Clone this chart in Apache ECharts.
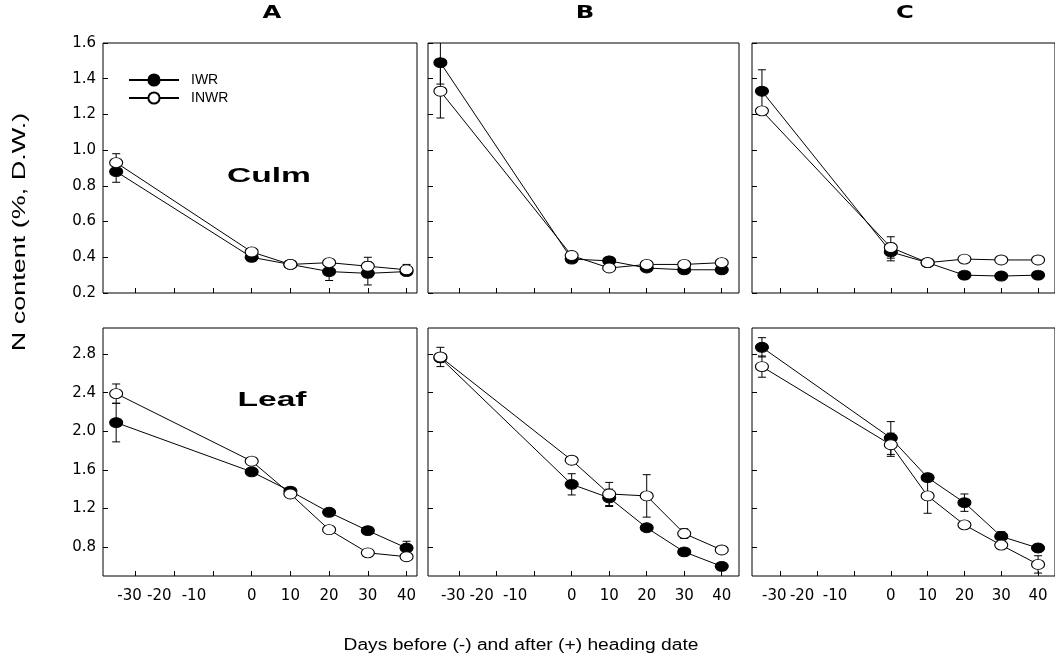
<!DOCTYPE html>
<html>
<head>
<meta charset="utf-8">
<script src="https://cdn.jsdelivr.net/npm/echarts@6/dist/echarts.min.js"></script>
<style>html,body{margin:0;padding:0;background:#fff}#c{width:1055px;height:667px}</style>
</head>
<body>
<div id="c"></div>
<script>
// ---- data ----
const days = [-35, 0, 10, 20, 30, 40];
const panelTitles = ['A', 'B', 'C'];
const seriesNames = ['IWR', 'INWR'];
const xTickValues = [-30, -20, -10, 0, 10, 20, 30, 40];
const culmTicks = [0.2, 0.4, 0.6, 0.8, 1.0, 1.2, 1.4, 1.6];
const leafTicks = [0.8, 1.2, 1.6, 2.0, 2.4, 2.8];

const culmA_IWR  = [0.88, 0.40, 0.36, 0.32, 0.31, 0.32];
const culmA_INWR = [0.93, 0.43, 0.36, 0.37, 0.35, 0.33];
const culmB_IWR  = [1.49, 0.39, 0.38, 0.34, 0.33, 0.33];
const culmB_INWR = [1.33, 0.41, 0.34, 0.36, 0.36, 0.37];
const culmC_IWR  = [1.33, 0.43, 0.37, 0.30, 0.295, 0.30];
const culmC_INWR = [1.22, 0.455, 0.37, 0.39, 0.385, 0.385];

const leafA_IWR  = [2.09, 1.58, 1.38, 1.16, 0.97, 0.79];
const leafA_INWR = [2.39, 1.69, 1.35, 0.98, 0.74, 0.70];
const leafB_IWR  = [2.76, 1.45, 1.31, 1.00, 0.75, 0.60];
const leafB_INWR = [2.77, 1.70, 1.35, 1.33, 0.94, 0.77];
const leafC_IWR  = [2.87, 1.93, 1.52, 1.26, 0.91, 0.79];
const leafC_INWR = [2.67, 1.86, 1.33, 1.03, 0.82, 0.62];

// error half-widths (0 = no visible bar)
const culmA_IWR_err  = [0.06, 0.02, 0, 0.05, 0.065, 0.02];
const culmA_INWR_err = [0.05, 0, 0, 0, 0.05, 0.03];
const culmB_IWR_err  = [0.12, 0.02, 0.02, 0, 0, 0];
const culmB_INWR_err = [0.15, 0.02, 0, 0, 0, 0];
const culmC_IWR_err  = [0.12, 0.05, 0, 0.02, 0.02, 0.02];
const culmC_INWR_err = [0, 0.06, 0.02, 0, 0, 0];
const leafA_IWR_err  = [0.2, 0.03, 0.03, 0.03, 0.03, 0.07];
const leafA_INWR_err = [0.1, 0, 0, 0, 0, 0];
const leafB_IWR_err  = [0.04, 0.11, 0.09, 0, 0, 0];
const leafB_INWR_err = [0.1, 0, 0.12, 0.22, 0.05, 0];
const leafC_IWR_err  = [0.1, 0.17, 0.04, 0.09, 0.05, 0.04];
const leafC_INWR_err = [0.11, 0.12, 0.18, 0, 0, 0.09];

const panels = [
  [culmA_IWR, culmA_INWR, culmA_IWR_err, culmA_INWR_err],
  [culmB_IWR, culmB_INWR, culmB_IWR_err, culmB_INWR_err],
  [culmC_IWR, culmC_INWR, culmC_IWR_err, culmC_INWR_err],
  [leafA_IWR, leafA_INWR, leafA_IWR_err, leafA_INWR_err],
  [leafB_IWR, leafB_INWR, leafB_IWR_err, leafB_INWR_err],
  [leafC_IWR, leafC_INWR, leafC_IWR_err, leafC_INWR_err]
];

// ---- layout ----
const colLayout = [
  {left: 103, width: 314, xmin: -38.4, xmax: 42.7},
  {left: 428, width: 311, xmin: -38.3, xmax: 44.6},
  {left: 752, width: 310, xmin: -37.7, xmax: 44.6}
];
const rowLayout = [
  {top: 43, height: 250, ymin: 0.2, ymax: 1.6, ticks: culmTicks},
  {top: 328, height: 248, ymin: 0.5, ymax: 3.07, ticks: leafTicks}
];
const FONT = 'DejaVu Sans';
const FS = 15;
const labelShift = {'-30': 6, '-20': 15, '-10': 19};

const grids = [], xAxes = [], yAxes = [], series = [];
for (let i = 0; i < 6; i++) {
  const r = Math.floor(i / 3), c = i % 3;
  const cl = colLayout[c], rl = rowLayout[r];
  grids.push({left: cl.left, top: rl.top, width: cl.width, height: rl.height,
    show: true, borderColor: '#000', borderWidth: 1, backgroundColor: 'transparent', containLabel: false});
  xAxes.push({
    type: 'value', gridIndex: i, min: cl.xmin, max: cl.xmax, position: 'bottom',
    axisLine: {show: false, onZero: false}, splitLine: {show: false},
    axisTick: {show: true, inside: true, length: 5, customValues: xTickValues, lineStyle: {color: '#000'}},
    axisLabel: {show: r === 1, customValues: xTickValues, margin: 13,
      fontFamily: FONT, fontSize: FS, color: '#000',
      formatter: v => {
        const s = labelShift[String(v)];
        return s ? '{s' + s + '|' + v + '}' : '{n|' + v + '}';
      },
      rich: {
        n: {fontFamily: FONT, fontSize: FS, color: '#000'},
        s6: {fontFamily: FONT, fontSize: FS, color: '#000', padding: [0, 12, 0, 0]},
        s15: {fontFamily: FONT, fontSize: FS, color: '#000', padding: [0, 30, 0, 0]},
        s19: {fontFamily: FONT, fontSize: FS, color: '#000', padding: [0, 38, 0, 0]}
      }
    }
  });
  yAxes.push({
    type: 'value', gridIndex: i, min: rl.ymin, max: rl.ymax, position: 'left',
    axisLine: {show: false, onZero: false}, splitLine: {show: false},
    axisTick: {show: true, inside: true, length: 5, customValues: rl.ticks, lineStyle: {color: '#000'}},
    axisLabel: {show: c === 0, customValues: rl.ticks, margin: 7,
      fontFamily: FONT, fontSize: FS, color: '#000', formatter: v => v.toFixed(1)}
  });
  const [iwr, inwr, eI, eN] = panels[i];
  const errData = [];
  [[iwr, eI], [inwr, eN]].forEach(([vals, errs]) => {
    days.forEach((d, k) => { if (errs[k] > 0) errData.push([d, vals[k] - errs[k], vals[k] + errs[k]]); });
  });
  series.push({
    type: 'custom', xAxisIndex: i, yAxisIndex: i, z: 1, silent: true, clip: true,
    data: errData,
    renderItem: (params, api) => {
      const x = api.value(0);
      const lo = api.coord([x, api.value(1)]);
      const hi = api.coord([x, api.value(2)]);
      const w = 4;
      const st = {stroke: '#000', lineWidth: 1};
      return {type: 'group', children: [
        {type: 'line', shape: {x1: lo[0], y1: lo[1], x2: hi[0], y2: hi[1]}, style: st},
        {type: 'line', shape: {x1: lo[0] - w, y1: lo[1], x2: lo[0] + w, y2: lo[1]}, style: st},
        {type: 'line', shape: {x1: hi[0] - w, y1: hi[1], x2: hi[0] + w, y2: hi[1]}, style: st}
      ]};
    }
  });
  series.push({
    name: 'IWR', type: 'line', xAxisIndex: i, yAxisIndex: i, z: 3,
    data: days.map((d, k) => [d, iwr[k]]),
    symbol: 'circle', symbolSize: [13, 10], showSymbol: true,
    lineStyle: {color: '#000', width: 1},
    itemStyle: {color: '#000', borderColor: '#000', borderWidth: 1},
    emphasis: {disabled: true}
  });
  series.push({
    name: 'INWR', type: 'line', xAxisIndex: i, yAxisIndex: i, z: 4,
    data: days.map((d, k) => [d, inwr[k]]),
    symbol: 'circle', symbolSize: [13, 10], showSymbol: true,
    lineStyle: {color: '#000', width: 1},
    itemStyle: {color: '#fff', borderColor: '#000', borderWidth: 1},
    emphasis: {disabled: true}
  });
}

function txt(x, y, text, font, sx, rot) {
  return {type: 'text', x: x, y: y, scaleX: sx || 1, rotation: rot || 0, z: 10,
    style: {text: text, font: font, fill: '#000', align: 'center', verticalAlign: 'middle',
      textAlign: 'center', textVerticalAlign: 'middle'}};
}

const graphics = [
  txt(272, 13, panelTitles[0], 'bold 18px "DejaVu Sans"', 1.35),
  txt(585, 13, panelTitles[1], 'bold 18px "DejaVu Sans"', 1.35),
  txt(905, 13, panelTitles[2], 'bold 18px "DejaVu Sans"', 1.35),
  txt(269, 176, 'Culm', 'bold 21px "Liberation Sans"', 1.6),
  txt(272, 400, 'Leaf', 'bold 21px "Liberation Sans"', 1.6),
  txt(20, 232, 'N content (%, D.W.)', '18px "Liberation Sans"', 1.5, Math.PI / 2),
  txt(521, 646, 'Days before (-) and after (+) heading date', '16px "Liberation Sans"', 1.2)
];

const chart = echarts.init(document.getElementById('c'), null, {renderer: 'canvas'});
chart.setOption({
  animation: false,
  backgroundColor: '#fff',
  grid: grids,
  xAxis: xAxes,
  yAxis: yAxes,
  legend: {
    data: seriesNames, orient: 'vertical', left: 123, top: 68,
    itemWidth: 50, itemHeight: 14, itemGap: 4,
    textStyle: {fontFamily: 'Liberation Sans', fontSize: 14, color: '#000', padding: [0, 0, 0, 7]},
    selectedMode: false
  },
  graphic: graphics,
  series: series
});
</script>
</body>
</html>
